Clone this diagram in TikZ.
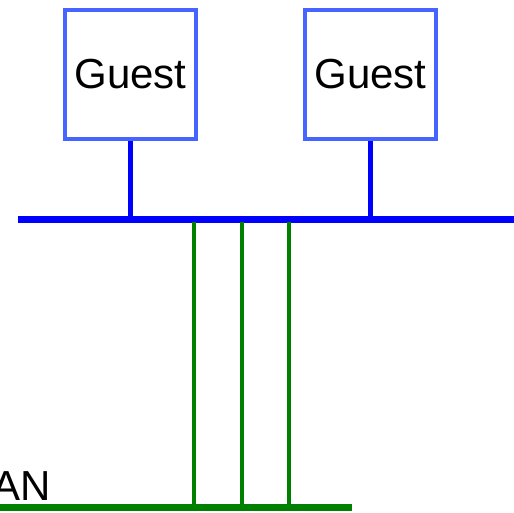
\documentclass[tikz,border=0pt]{standalone}
\usepackage{fontspec}
\setmainfont{Liberation Sans}
\definecolor{boxblue}{RGB}{70,100,255}
\definecolor{busblue}{RGB}{0,0,255}
\definecolor{lgreen}{RGB}{0,128,0}
\begin{document}
\begin{tikzpicture}[x=1pt,y=1pt,
  guestbox/.style={draw=boxblue,line width=4.5pt,minimum width=131pt,minimum height=129pt,inner sep=0pt,font=\fontsize{42}{42}\selectfont},
  busline/.style={draw=busblue,line width=6.5pt},
  tapline/.style={draw=busblue,line width=4.5pt},
  glink/.style={draw=lgreen,line width=4.5pt},
  gbus/.style={draw=lgreen,line width=6.5pt}]
\useasboundingbox (0,0) rectangle (514,512);
\node[guestbox] (g1) at (130.5,437.5) {Guest};
\node[guestbox] (g2) at (370.5,437.5) {Guest};
\coordinate (busL) at (18,292.5);
\coordinate (busR) at (514,292.5);
\draw[busline] (busL) -- (busR);
\coordinate (t1) at (130,292.5);
\coordinate (t2) at (368,292.5);
\draw[tapline] (g1.south) -- (g1.south |- t1);
\draw[tapline] (g2.south) -- (g2.south |- t2);
\coordinate (lanL) at (0,4.5);
\coordinate (lanR) at (352,4.5);
\draw[gbus] (lanL) -- (lanR);
\foreach \x [count=\i] in {194,242,289}{
  \coordinate (up\i) at (\x,290);
  \coordinate (dn\i) at (\x,4.5);
  \draw[glink] (up\i) -- (dn\i);
}
\node[anchor=base east,inner sep=0pt,font=\fontsize{42}{42}\selectfont] (lan) at (51,12) {AN};
\end{tikzpicture}
\end{document}
